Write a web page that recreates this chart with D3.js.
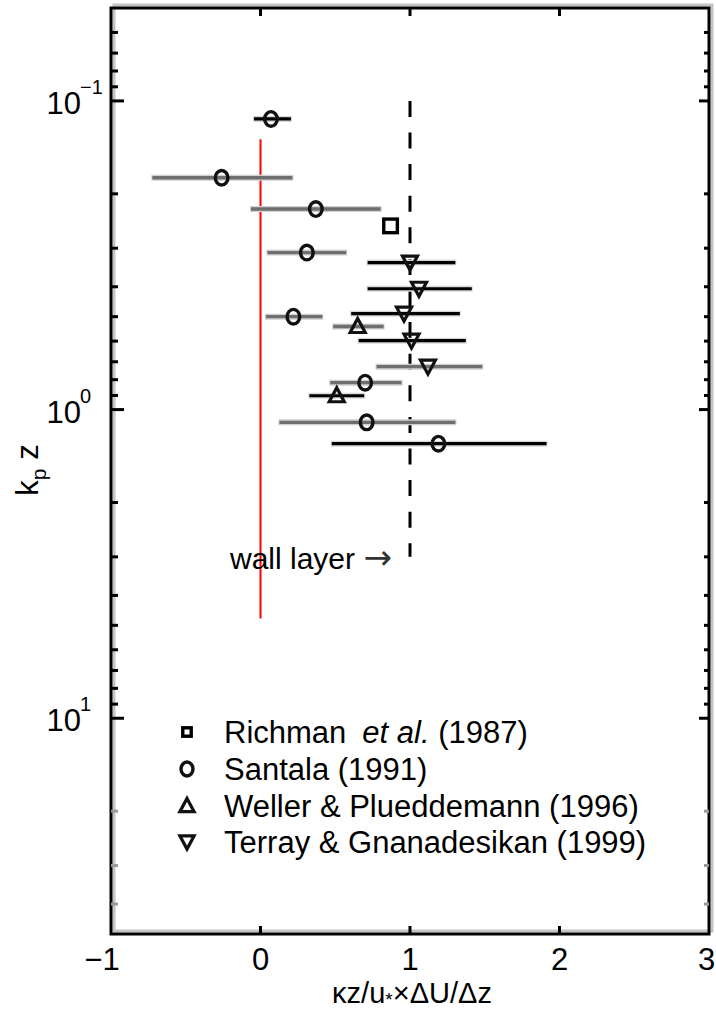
<!DOCTYPE html>
<html>
<head>
<meta charset="utf-8">
<script src="https://cdn.jsdelivr.net/npm/d3@7"></script>
<style>
  html, body { margin: 0; padding: 0; background: #fff; }
  svg { display: block; font-family: "Liberation Sans", Arial, Helvetica, sans-serif; }
</style>
</head>
<body>
<svg id="chart" width="716" height="1010"></svg>
<script>
// ---------------- data ----------------
const xTickValues = [-1, 0, 1, 2, 3];
const yMajorValues = [0.1, 1, 10];
const yMajorExponents = ["\u22121", "0", "1"];
const yMinorValues = [0.06, 0.07, 0.08, 0.09, 0.2, 0.3, 0.4, 0.5, 0.6, 0.7, 0.8, 0.9,
                      2, 3, 4, 5, 6, 7, 8, 9, 20, 30, 40];

// Richman et al. (1987) — square
const richmanX = [0.87];
const richmanK = [0.254];

// Santala (1991) — circles
const santalaX  = [0.07, -0.26, 0.37, 0.31, 0.22, 0.70, 0.71, 1.19];
const santalaK  = [0.1144, 0.1774, 0.224, 0.310, 0.500, 0.818, 1.10, 1.29];
const santalaLo = [-0.05, -0.73, -0.07, 0.04, 0.03, 0.46, 0.12, 0.47];
const santalaHi = [0.21, 0.22, 0.81, 0.58, 0.42, 0.95, 1.31, 1.92];
const santalaBar = ["black", "gray", "gray", "gray", "gray", "gray", "gray", "black"];

// Weller & Plueddemann (1996) — up triangles
const wellerX  = [0.65, 0.51];
const wellerK  = [0.538, 0.902];
const wellerLo = [0.48, 0.32];
const wellerHi = [0.83, 0.70];
const wellerBar = ["gray", "black"];

// Terray & Gnanadesikan (1999) — down triangles
const terrayX  = [1.00, 1.06, 0.96, 1.01, 1.12];
const terrayK  = [0.334, 0.406, 0.489, 0.598, 0.726];
const terrayLo = [0.71, 0.71, 0.60, 0.65, 0.77];
const terrayHi = [1.31, 1.42, 1.34, 1.38, 1.49];
const terrayBar = ["black", "black", "black", "black", "gray"];

// reference lines
const redLineX = 0, redLineK = [0.133, 4.75];
const dashLineX = 1, dashLineK = [0.1, 3.0];

const legendLabels = ["Richman", "Santala (1991)", "Weller & Plueddemann (1996)", "Terray & Gnanadesikan (1999)"];
const legendShapes = ["square", "circle", "up", "down"];

// ---------------- drawing ----------------
const svg = d3.select("#chart");
const x = d3.scaleLinear().domain([-1, 3]).range([111, 709]);
const y = d3.scaleLog().domain([0.05, 50]).range([8, 934]);
const [x0, x1] = x.range();
const [y0, y1] = y.range();

// frame shadow + frame
svg.append("rect").attr("x", x0 + 3).attr("y", y0 - 3).attr("width", x1 - x0).attr("height", y1 - y0)
  .attr("fill", "none").attr("stroke", "#c4c4c4").attr("stroke-width", 3);
svg.append("rect").attr("x", x0).attr("y", y0).attr("width", x1 - x0).attr("height", y1 - y0)
  .attr("fill", "none").attr("stroke", "#000").attr("stroke-width", 3);

// y ticks (left, right) inward
const yMajorG = svg.append("g");
yMajorValues.forEach(v => {
  yMajorG.append("line").attr("x1", x0).attr("x2", x0 + 13).attr("y1", y(v)).attr("y2", y(v))
    .attr("stroke", "#000").attr("stroke-width", 3);
  yMajorG.append("line").attr("x1", x1).attr("x2", x1 - 10).attr("y1", y(v)).attr("y2", y(v))
    .attr("stroke", "#000").attr("stroke-width", 3);
});
yMinorValues.forEach(v => {
  const c = v > 10 ? "#999" : "#000";
  yMajorG.append("line").attr("x1", x0).attr("x2", x0 + 7).attr("y1", y(v)).attr("y2", y(v))
    .attr("stroke", c).attr("stroke-width", 3);
  yMajorG.append("line").attr("x1", x1).attr("x2", x1 - 5).attr("y1", y(v)).attr("y2", y(v))
    .attr("stroke", c).attr("stroke-width", 3);
});

// y labels 10^n
yMajorValues.forEach((v, i) => {
  svg.append("text").attr("x", 81).attr("y", y(v) + 13).attr("text-anchor", "end")
    .attr("font-size", 31).attr("fill", "#000").text("10");
  svg.append("text").attr("x", 80).attr("y", y(v) - 7).attr("text-anchor", "start")
    .attr("font-size", 20).attr("fill", "#000").text(yMajorExponents[i]);
});

// x ticks (bottom, top) inward, only interior
xTickValues.filter(v => v > -1 && v < 3).forEach(v => {
  svg.append("line").attr("x1", x(v)).attr("x2", x(v)).attr("y1", y1).attr("y2", y1 - 8)
    .attr("stroke", "#000").attr("stroke-width", 3);
  svg.append("line").attr("x1", x(v)).attr("x2", x(v)).attr("y1", y0).attr("y2", y0 + 8)
    .attr("stroke", "#000").attr("stroke-width", 3);
});
const xDomainMax = x.domain()[1];
xTickValues.forEach(v => {
  const isLast = v === xDomainMax;
  svg.append("text").attr("x", x(v)).attr("y", 970)
    .attr("text-anchor", isLast ? "end" : "middle")
    .attr("dx", v < 0 ? "-0.29em" : (isLast ? "0.2em" : 0))
    .attr("font-size", 31).attr("fill", "#000").text(d3.format("")(v).replace("-", "\u2212"));
});

// axis titles
const xt = svg.append("text").attr("x", 412).attr("y", 1003).attr("text-anchor", "middle")
  .attr("font-size", 29).attr("fill", "#000");
xt.append("tspan").text("\u03bAz/u");
xt.append("tspan").attr("font-size", 19).attr("dy", 3).text("*");
xt.append("tspan").attr("dy", -3).text("\u00d7\u0394U/\u0394z");

const yt = svg.append("text").attr("transform", "translate(38,470) rotate(-90)")
  .attr("text-anchor", "middle").attr("font-size", 31).attr("fill", "#000");
yt.append("tspan").text("k");
yt.append("tspan").attr("font-size", 21).attr("dy", 8).text("p");
yt.append("tspan").attr("dy", -8).text(" z");

// reference lines
svg.append("line").attr("x1", x(redLineX)).attr("x2", x(redLineX))
  .attr("y1", y(redLineK[0])).attr("y2", y(redLineK[1]))
  .attr("stroke", "#ff0000").attr("stroke-width", 2);
svg.append("line").attr("x1", x(dashLineX)).attr("x2", x(dashLineX))
  .attr("y1", y(dashLineK[0])).attr("y2", y(dashLineK[1]))
  .attr("stroke", "#000").attr("stroke-width", 3).attr("stroke-dasharray", "16,15.6");

// "wall layer" annotation
const wl = svg.append("text").attr("x", 230).attr("y", 569).attr("font-size", 30).attr("fill", "#000");
wl.append("tspan").text("wall layer ");
wl.append("tspan").attr("font-family", "DejaVu Sans").attr("font-size", 34).attr("fill", "#333").text("\u2192");

// error bars
function bars(X, K, Lo, Hi, kind) {
  const g = svg.append("g");
  X.forEach((_, i) => {
    const yy = y(K[i]);
    const isBlack = kind[i] === "black";
    g.append("line").attr("x1", x(Lo[i])).attr("x2", x(Hi[i])).attr("y1", yy).attr("y2", yy)
      .attr("stroke", isBlack ? "#d8d8d8" : "#cfcfcf").attr("stroke-width", 6);
    g.append("line").attr("x1", x(Lo[i]) + 1).attr("x2", x(Hi[i]) - 1).attr("y1", yy).attr("y2", yy)
      .attr("stroke", isBlack ? "#000" : "#6f6f6f").attr("stroke-width", isBlack ? 3.2 : 3.4);
  });
}
bars(santalaX, santalaK, santalaLo, santalaHi, santalaBar);
bars(wellerX, wellerK, wellerLo, wellerHi, wellerBar);
bars(terrayX, terrayK, terrayLo, terrayHi, terrayBar);

// markers
function marker(g, shape, cx, cy, s) {
  if (shape === "square") {
    g.append("rect").attr("x", cx - 6.8 * s).attr("y", cy - 6.8 * s).attr("width", 13.6 * s).attr("height", 13.6 * s)
      .attr("fill", "#fff").attr("stroke", "#000").attr("stroke-width", 3.4);
  } else if (shape === "circle") {
    g.append("ellipse").attr("cx", cx).attr("cy", cy).attr("rx", 6.3 * s).attr("ry", 7.3 * s)
      .attr("fill", "none").attr("stroke", "#111").attr("stroke-width", 3.4);
  } else if (shape === "up") {
    g.append("path").attr("d", `M${cx},${cy - 8 * s} L${cx + 7.5 * s},${cy + 6 * s} L${cx - 7.5 * s},${cy + 6 * s} Z`)
      .attr("fill", "none").attr("stroke", "#111").attr("stroke-width", 3.2).attr("stroke-linejoin", "miter");
  } else {
    g.append("path").attr("d", `M${cx - 7.5 * s},${cy - 6.5 * s} L${cx + 7.5 * s},${cy - 6.5 * s} L${cx},${cy + 7.5 * s} Z`)
      .attr("fill", "none").attr("stroke", "#111").attr("stroke-width", 3.2).attr("stroke-linejoin", "miter");
  }
}
const mg = svg.append("g");
richmanX.forEach((v, i) => marker(mg, "square", x(v), y(richmanK[i]), 1));
santalaX.forEach((v, i) => marker(mg, "circle", x(v), y(santalaK[i]), 1));
wellerX.forEach((v, i) => marker(mg, "up", x(v), y(wellerK[i]), 1));
terrayX.forEach((v, i) => marker(mg, "down", x(v), y(terrayK[i]), 1));

// legend
const lg = svg.append("g");
const legendY = [732, 769, 806, 842];
legendShapes.forEach((s, i) => {
  marker(lg, s, 187, legendY[i], s === "square" ? 0.62 : 0.95);
  const t = lg.append("text").attr("x", 224).attr("y", legendY[i] + 11).attr("font-size", 31).attr("fill", "#000");
  if (i === 0) {
    t.append("tspan").text(legendLabels[0]);
    t.append("tspan").attr("dx", 16).attr("font-style", "italic").text("et al.");
    t.append("tspan").text(" (1987)");
  } else {
    t.text(legendLabels[i]);
  }
});
</script>
</body>
</html>
